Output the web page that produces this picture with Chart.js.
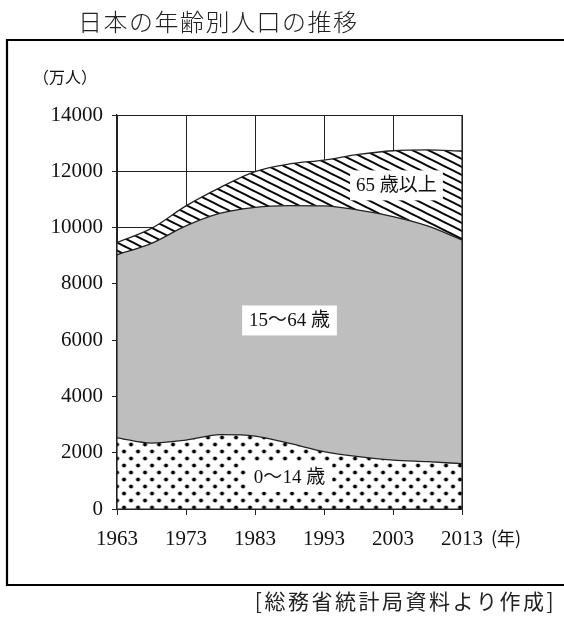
<!DOCTYPE html>
<html lang="ja">
<head>
<meta charset="utf-8">
<title>日本の年齢別人口の推移</title>
<script src="https://cdn.jsdelivr.net/npm/chart.js@4.4.1/dist/chart.umd.min.js"></script>
<style>
  html, body { margin: 0; padding: 0; background: #fff; overflow: hidden; }
  canvas { display: block; }
</style>
</head>
<body>
<canvas id="grafico" width="564" height="619"></canvas>
<script>
// values (万人)
const years = [1963, 1968, 1973, 1978, 1983, 1988, 1993, 1998, 2003, 2008, 2013];
const age0to14 = [2530, 2340, 2450, 2640, 2590, 2330, 2040, 1860, 1740, 1680, 1610];
const age15to64 = [6500, 7100, 7610, 7870, 8130, 8450, 8730, 8760, 8650, 8380, 7950];
const age65plus = [440, 530, 710, 920, 1270, 1480, 1630, 1980, 2340, 2700, 3160];

const xTicks = [1963, 1973, 1983, 1993, 2003, 2013];
const yTicks = [0, 2000, 4000, 6000, 8000, 10000, 12000, 14000];

const titulo = '日本の年齢別人口の推移';
const fuente = '[総務省統計局資料より作成]';

const canvas = document.getElementById('grafico');
const ctx = canvas.getContext('2d');

const serif = '"Liberation Serif", "Noto Sans CJK JP", serif';
const gothic = '"Noto Sans CJK JP", sans-serif';

function dotPattern() {
  const t = document.createElement('canvas');
  t.width = 14; t.height = 14;
  const g = t.getContext('2d');
  g.fillStyle = '#fff';
  g.fillRect(0, 0, 14, 14);
  g.fillStyle = '#000';
  [[3.5, 3.5], [10.5, 10.5]].forEach(([x, y]) => {
    g.beginPath();
    g.arc(x, y, 2, 0, Math.PI * 2);
    g.fill();
  });
  const p = ctx.createPattern(t, 'repeat');
  p.setTransform(new DOMMatrix([1, 0, 0, 1, 120.5 % 14, 504 % 14]));
  return p;
}

function hatchPattern() {
  const w = 16, h = 8;
  const t = document.createElement('canvas');
  t.width = w; t.height = h;
  const g = t.getContext('2d');
  g.fillStyle = '#fff';
  g.fillRect(0, 0, w, h);
  g.strokeStyle = '#000';
  g.lineWidth = 2;
  g.beginPath();
  for (const c of [-h, 0, h]) {
    g.moveTo(-1, c - h / w);
    g.lineTo(w + 1, h + c + h / w);
  }
  g.stroke();
  return ctx.createPattern(t, 'repeat');
}

function toPoints(arr) {
  return years.map((y, i) => ({ x: y, y: arr[i] }));
}

function boxedText(c, text, x, y, font, pad, box) {
  c.font = font;
  c.textAlign = 'center';
  c.textBaseline = 'middle';
  const w = c.measureText(text).width;
  if (box) {
    c.fillStyle = '#fff';
    c.fillRect(x - w / 2 - pad, y - 15, w + pad * 2, 30);
  }
  c.fillStyle = '#111';
  c.fillText(text, x, y + 1);
}

const decor = {
  id: 'decor',
  beforeDraw(chart) {
    const c = chart.ctx;
    c.save();
    c.fillStyle = '#fff';
    c.fillRect(0, 0, chart.width, chart.height);
    c.restore();
  },
  afterDatasetsDraw(chart) {
    const c = chart.ctx;
    const a = chart.chartArea;
    const xs = chart.scales.x, ys = chart.scales.y;
    c.save();
    // plot edges over the fills
    c.strokeStyle = '#222';
    c.lineWidth = 1.2;
    c.beginPath();
    c.moveTo(a.left, a.top); c.lineTo(a.left, a.bottom);
    c.lineTo(a.right, a.bottom); c.lineTo(a.right, a.top);
    c.stroke();
    // area labels
    boxedText(c, '65 歳以上', xs.getPixelForValue(2003.5), ys.getPixelForValue(11500), '19px ' + serif, 6, true);
    boxedText(c, '15〜64 歳', xs.getPixelForValue(1988), ys.getPixelForValue(6700), '19px ' + serif, 7, true);
    boxedText(c, '0〜14 歳', xs.getPixelForValue(1988), ys.getPixelForValue(1150), '19px ' + serif, 7, true);
    c.restore();
  },
  afterDraw(chart) {
    const c = chart.ctx;
    c.save();
    // outer frame, open on the right
    c.strokeStyle = '#000';
    c.lineWidth = 2.2;
    c.beginPath();
    c.moveTo(600, 40); c.lineTo(7, 40); c.lineTo(7, 585); c.lineTo(600, 585);
    c.stroke();

    c.fillStyle = '#222';
    c.textBaseline = 'middle';
    c.textAlign = 'left';
    c.font = '300 24px ' + gothic;
    c.letterSpacing = '1.5px';
    c.fillText(titulo, 78, 22);

    c.fillStyle = '#111';
    c.letterSpacing = '0px';
    c.font = '16px ' + gothic;
    c.fillText('（万人）', 33, 77);

    c.font = '18px ' + gothic;
    c.fillText('(年)', 491, 538);

    c.fillStyle = '#222';
    c.textAlign = 'right';
    c.font = '21px ' + gothic;
    c.letterSpacing = '2.5px';
    c.fillText(fuente, 556, 601);
    c.restore();
  }
};

new Chart(ctx, {
  type: 'line',
  data: {
    datasets: [
      { label: '0〜14歳', data: toPoints(age0to14), backgroundColor: dotPattern(), fill: 'origin' },
      { label: '15〜64歳', data: toPoints(age15to64), backgroundColor: 'rgb(190,190,190)', fill: '-1' },
      { label: '65歳以上', data: toPoints(age65plus), backgroundColor: hatchPattern(), fill: '-1' }
    ]
  },
  options: {
    responsive: false,
    animation: false,
    devicePixelRatio: 1,
    layout: { padding: { left: 27, right: 102, top: 115, bottom: 70 } },
    elements: {
      line: { borderColor: '#222', borderWidth: 1.3, tension: 0.4, cubicInterpolationMode: 'monotone' },
      point: { radius: 0, hoverRadius: 0 }
    },
    plugins: {
      legend: { display: false },
      tooltip: { enabled: false },
      filler: { propagate: false }
    },
    scales: {
      x: {
        type: 'linear',
        min: 1963, max: 2013,
        afterBuildTicks: axis => { axis.ticks = xTicks.map(v => ({ value: v })); },
        afterFit: axis => { axis.height = 40; },
        grid: { color: '#222', lineWidth: 1, tickLength: 6, drawTicks: true },
        border: { color: '#222', width: 1.2 },
        ticks: { color: '#111', font: { family: serif, size: 21 }, padding: 12, maxRotation: 0, callback: v => String(v) }
      },
      y: {
        stacked: true,
        min: 0, max: 14000,
        afterBuildTicks: axis => { axis.ticks = yTicks.map(v => ({ value: v })); },
        afterFit: axis => { axis.width = 90; },
        grid: { color: '#222', lineWidth: 1, tickLength: 5, drawTicks: true },
        border: { color: '#222', width: 1.2 },
        ticks: { color: '#111', font: { family: serif, size: 21 }, padding: 9, callback: v => String(v) }
      }
    }
  },
  plugins: [decor]
});
</script>
</body>
</html>
